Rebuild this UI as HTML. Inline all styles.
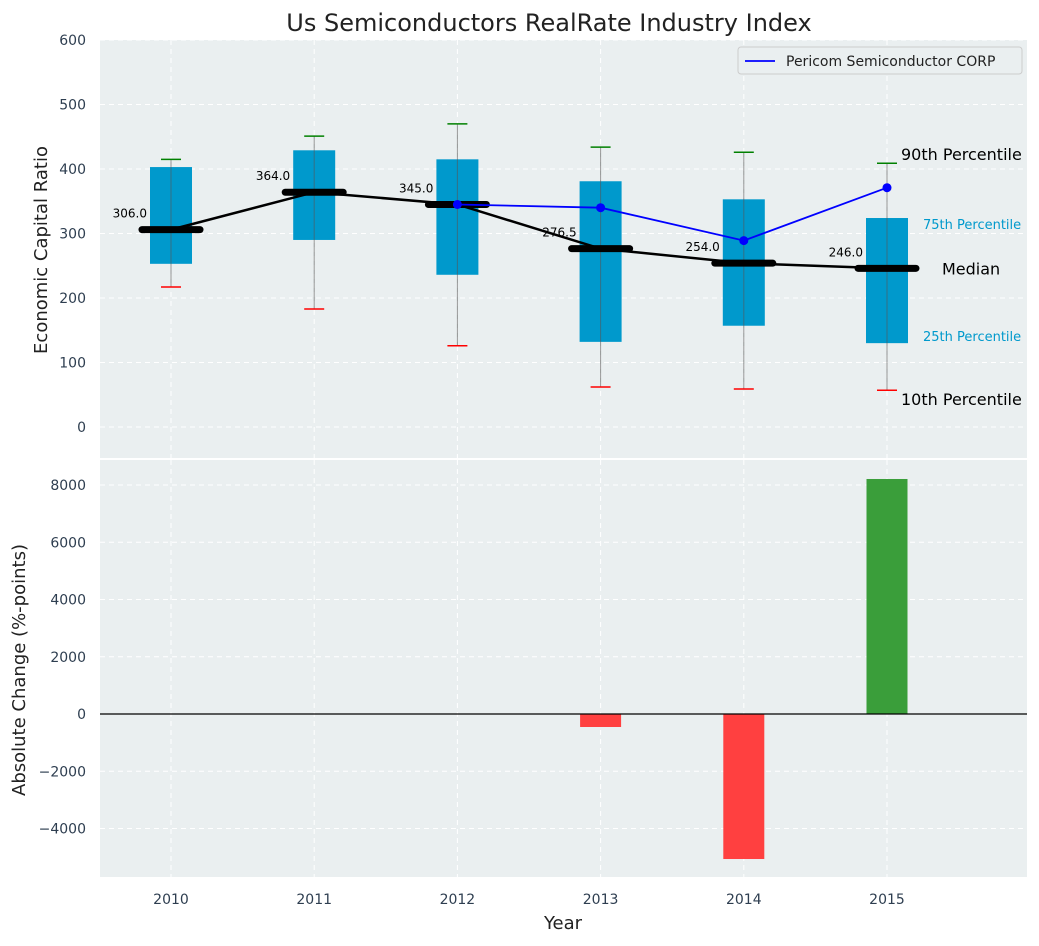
<!DOCTYPE html>
<html><head><meta charset="utf-8"><style>
body{margin:0;background:#fff;font-family:"DejaVu Sans","Liberation Sans",sans-serif}
</style></head><body>
<svg id="c" width="1039" height="942" xmlns="http://www.w3.org/2000/svg" font-family="DejaVu Sans, Liberation Sans, sans-serif"></svg>
<script>
const years=[2010,2011,2012,2013,2014,2015];
const p10=[217,183,126,62,59,57];
const p25=[253,290,236,132,157,130];
const medians=[306,364,345,276.5,254,246];
const p75=[403,429,415,381,353,324];
const p90=[415,451,470,434,426,409];
const companyYears=[2012,2013,2014,2015];
const companyVals=[345,340,289,371];
const changes=[0,0,0,-454,-5066,8210];
const topTicks=[0,100,200,300,400,500,600];
const botTicks=[-4000,-2000,0,2000,4000,6000,8000];
const NS="http://www.w3.org/2000/svg";
const svg=document.getElementById('c');
function el(t,a,txt){const e=document.createElementNS(NS,t);for(const k in a)e.setAttribute(k,a[k]);if(txt!==undefined)e.textContent=txt;svg.appendChild(e);return e;}
const L=100,R=1027;
const X=v=>171+(v-2010)*143.2;
const YT=v=>427-v*0.645;
const YB=v=>714-v*(57.25/2000);
let e=el('rect',{x:L,y:40,width:R-L,height:418,fill:'#eaeff0'});

e=el('rect',{x:L,y:460,width:R-L,height:417,fill:'#eaeff0'});

topTicks.forEach(t=>{el('line',{x1:L,x2:R,y1:YT(t),y2:YT(t),stroke:'#fff','stroke-dasharray':'5,4'});
 e=el('text',{x:86,y:YT(t)+5,'text-anchor':'end','font-size':14,fill:'#2e3e50'},t);
 });
botTicks.forEach(t=>{el('line',{x1:L,x2:R,y1:YB(t),y2:YB(t),stroke:'#fff','stroke-dasharray':'5,4'});
 e=el('text',{x:86,y:YB(t)+5,'text-anchor':'end','font-size':14,fill:'#2e3e50'},String(t).replace('-','\u2212'));
 });
years.forEach(y=>{el('line',{x1:X(y),x2:X(y),y1:40,y2:458,stroke:'#fff','stroke-dasharray':'5,4'});
 el('line',{x1:X(y),x2:X(y),y1:460,y2:877,stroke:'#fff','stroke-dasharray':'5,4'});
 e=el('text',{x:X(y),y:904,'text-anchor':'middle','font-size':14,fill:'#2e3e50'},y);
 });
years.forEach((y,i)=>{const x=X(y);
 e=el('rect',{x:x-21,y:YT(p75[i]),width:42,height:YT(p25[i])-YT(p75[i]),fill:'#0099cc'});
 
 el('line',{x1:x,x2:x,y1:YT(p90[i]),y2:YT(p10[i]),stroke:'#555','stroke-opacity':0.6,'stroke-width':1});
 el('line',{x1:x-10,x2:x+10,y1:YT(p90[i]),y2:YT(p90[i]),stroke:'green','stroke-width':1.5});
 el('line',{x1:x-10,x2:x+10,y1:YT(p10[i]),y2:YT(p10[i]),stroke:'red','stroke-width':1.5});
});
e=el('polyline',{points:years.map((y,i)=>X(y)+','+YT(medians[i])).join(' '),fill:'none',stroke:'#000','stroke-width':2.5});

years.forEach((y,i)=>{const x=X(y);
 el('line',{x1:x-29,x2:x+29,y1:YT(medians[i]),y2:YT(medians[i]),stroke:'#000','stroke-width':7,'stroke-linecap':'round'});
 e=el('text',{x:x-24,y:YT(medians[i])-12,'text-anchor':'end','font-size':12,fill:'#000'},medians[i].toFixed(1));
 });
e=el('polyline',{points:companyYears.map((y,i)=>X(y)+','+YT(companyVals[i])).join(' '),fill:'none',stroke:'blue','stroke-width':1.8});

companyYears.forEach((y,i)=>{e=el('circle',{cx:X(y),cy:YT(companyVals[i]),r:4.5,fill:'blue'});
 });
const lx=X(2015);
[['90th Percentile',lx+14,YT(p90[5])-3,16,'#000'],['75th Percentile',lx+36,YT(p75[5])+11,13,'#0099cc'],['Median',lx+55,YT(medians[5])+6,16,'#000'],['25th Percentile',lx+36,YT(p25[5])-2,13,'#0099cc'],['10th Percentile',lx+14,YT(p10[5])+15,16,'#000']].forEach(a=>{
 e=el('text',{x:a[1],y:a[2],'font-size':a[3],fill:a[4]},a[0]);});
e=el('rect',{x:738,y:47,width:284,height:27,fill:'#eaeff0',stroke:'#ccc',rx:3});

el('line',{x1:745,x2:775,y1:61,y2:61,stroke:'blue','stroke-width':1.8});
e=el('text',{x:786,y:66,'font-size':14,fill:'#222'},'Pericom Semiconductor CORP');

years.forEach((y,i)=>{if(!changes[i])return;const v=changes[i];
 e=el('rect',{x:X(y)-20.5,y:Math.min(YB(v),YB(0)),width:41,height:Math.abs(YB(v)-YB(0)),fill:v>0?'#3a9e3a':'#ff4040'});
 });
el('line',{x1:L,x2:R,y1:YB(0),y2:YB(0),stroke:'#000','stroke-width':1.2});
e=el('text',{x:549,y:31,'text-anchor':'middle','font-size':24,fill:'#222'},'Us Semiconductors RealRate Industry Index');

e=el('text',{x:47,y:250,'text-anchor':'middle','font-size':18,fill:'#222',transform:'rotate(-90 47 250)'},'Economic Capital Ratio');

e=el('text',{x:25,y:670,'text-anchor':'middle','font-size':18,fill:'#222',transform:'rotate(-90 25 670)'},'Absolute Change (%-points)');

e=el('text',{x:563,y:929,'text-anchor':'middle','font-size':18,fill:'#222'},'Year');

</script>
</body></html>
